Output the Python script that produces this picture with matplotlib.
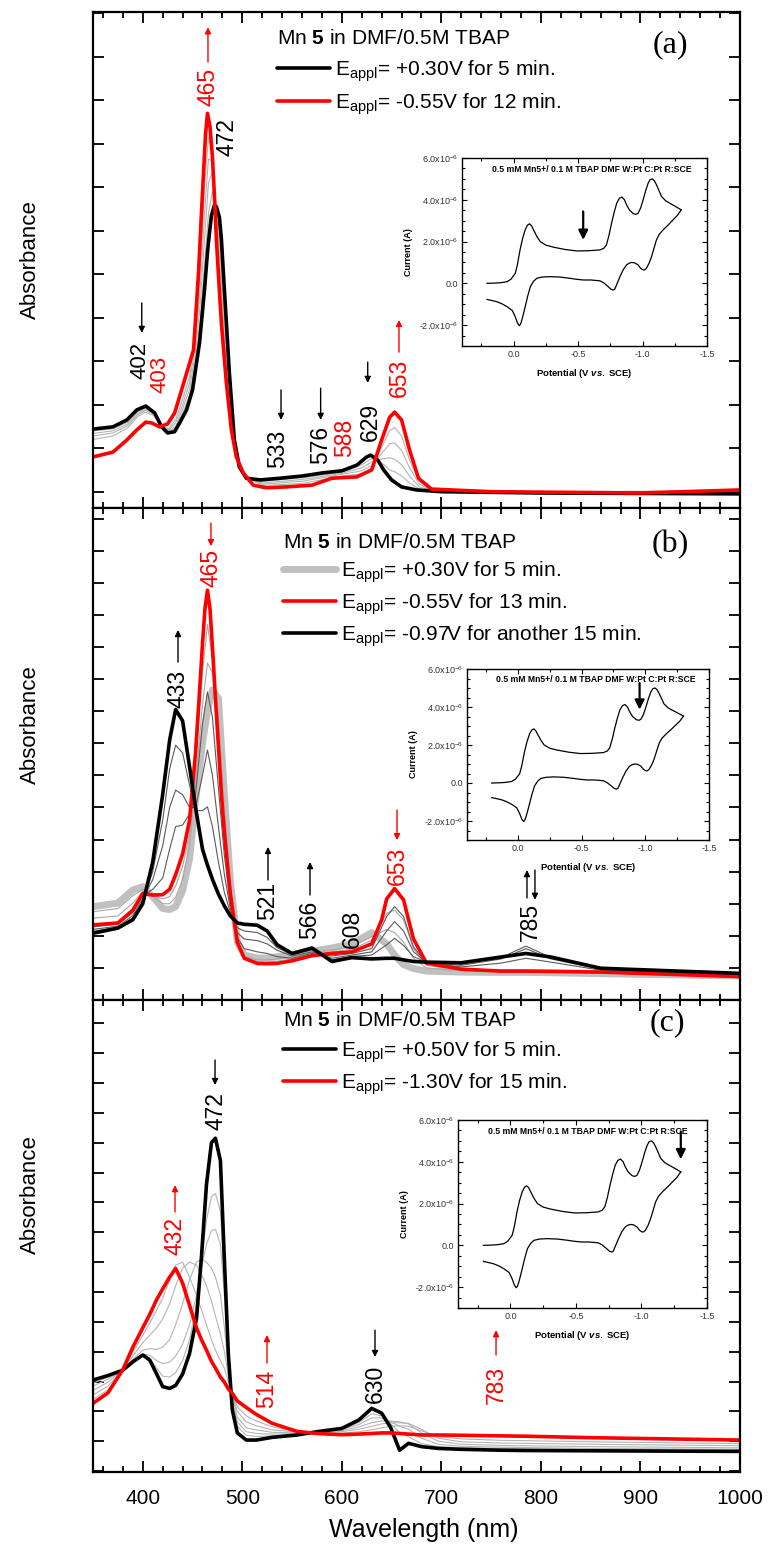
import matplotlib
matplotlib.use("Agg")
import matplotlib.pyplot as plt
from matplotlib.lines import Line2D
from matplotlib.ticker import MultipleLocator, AutoMinorLocator, FuncFormatter

plt.rcParams['font.family'] = ['Liberation Sans', 'DejaVu Sans']
plt.rcParams['mathtext.fontset'] = 'custom'
plt.rcParams['mathtext.rm'] = 'Liberation Sans'
plt.rcParams['mathtext.it'] = 'Liberation Sans:italic:bold'
plt.rcParams['mathtext.bf'] = 'Liberation Sans:bold'

# ---------------- panel (a) spectra ----------------
a_black_wl = [350, 370, 384, 394, 403, 412, 419, 425, 432, 437, 444, 450, 457, 462, 465, 467, 469, 472, 474, 477,
              479, 482, 484.5, 487, 492, 497, 504, 518, 538, 560, 580, 600, 615, 625, 629, 636, 642, 650, 660, 675,
              700, 800, 1000]
a_black = [0.144, 0.149, 0.165, 0.188, 0.197, 0.181, 0.149, 0.135, 0.138, 0.158, 0.188, 0.234, 0.342, 0.464, 0.550,
           0.595, 0.635, 0.659, 0.655, 0.631, 0.580, 0.464, 0.370, 0.273, 0.119, 0.057, 0.031, 0.027, 0.031, 0.036,
           0.043, 0.048, 0.061, 0.080, 0.084, 0.073, 0.050, 0.027, 0.011, 0.004, 0.0, -0.003, -0.005]

a_red_wl = [350, 370, 384, 394, 403, 409, 417, 425, 432, 439, 445, 451, 456, 458.5, 461, 463, 465, 467.5, 470, 472,
            474, 476.5, 479, 484, 489, 494, 501, 511, 524, 544, 570, 590, 615, 630, 640, 648, 653, 660, 668, 677,
            690, 750, 900, 1000]
a_red = [0.080, 0.091, 0.119, 0.142, 0.160, 0.158, 0.149, 0.156, 0.181, 0.234, 0.280, 0.326, 0.503, 0.620, 0.732,
         0.820, 0.870, 0.840, 0.769, 0.680, 0.578, 0.480, 0.387, 0.250, 0.142, 0.080, 0.043, 0.015, 0.009, 0.011,
         0.015, 0.031, 0.034, 0.050, 0.119, 0.171, 0.183, 0.165, 0.096, 0.031, 0.006, 0.0, -0.003, 0.004]

a_grid = [350, 370, 385, 395, 403, 411, 419, 426, 433, 440, 447, 453, 458, 462, 466, 470, 474, 478, 482, 487,
          492, 497, 504, 520, 560, 600, 620, 630, 640, 648, 653, 660, 668, 678, 690, 720, 800, 1000]
a_gray1 = [.140, .145, .160, .184, .193, .182, .150, .138, .145, .180, .220, .300, .400, .520, .640, .690, .660, .570,
           .420, .250, .118, .058, .032, .024, .032, .045, .062, .076, .066, .050, .046, .036, .020, .006, .002, 0,
           -.002, -.003]
a_gray2 = [.134, .140, .156, .180, .190, .180, .150, .140, .150, .190, .235, .320, .440, .580, .710, .735, .650, .540,
           .390, .235, .115, .058, .032, .020, .028, .042, .055, .068, .075, .078, .075, .062, .036, .011, .003, .001,
           -.001, -.002]
a_gray3 = [.128, .135, .152, .177, .187, .178, .150, .142, .158, .200, .250, .340, .480, .640, .765, .760, .640, .510,
           .365, .220, .112, .058, .033, .017, .024, .040, .048, .060, .088, .110, .112, .095, .055, .017, .004, .001,
           -.001, 0]
a_gray4 = [.120, .128, .147, .173, .183, .175, .150, .145, .165, .212, .265, .360, .520, .700, .815, .775, .620, .475,
           .340, .205, .108, .059, .034, .014, .019, .036, .041, .054, .102, .140, .148, .128, .073, .023, .005, .001,
           0, .002]

# ---------------- panel (b) spectra ----------------
b_grid = [350, 375, 390, 400, 410, 420, 427, 433, 440, 447, 453, 460, 465, 470, 476, 482, 488, 495, 502, 515,
          525, 535, 550, 570, 590, 610, 630, 645, 653, 662, 672, 685, 720, 760, 785, 810, 860, 1000]
b_black = [.208, .224, .250, .300, .430, .640, .810, .905, .870, .727, .600, .470, .420, .376, .330, .293, .262, .240,
           .236, .233, .215, .172, .145, .162, .120, .132, .128, .130, .130, .125, .120, .118, .116, .134, .145, .134,
           .099, .083]
b_red_wl = [350, 375, 390, 400, 410, 420, 427, 433, 440, 447, 453, 457, 460, 462.5, 465, 467.5, 470, 473, 476, 479,
            482, 488, 495, 502, 515, 525, 535, 550, 570, 590, 610, 630, 640, 645, 653, 662, 667, 672, 685, 720,
            760, 785, 810, 860, 1000]
b_red = [.234, .240, .280, .332, .327, .328, .345, .390, .455, .560, .770, .960, 1.110, 1.220, 1.277, 1.220, 1.100,
         .940, .790, .640, .520, .330, .180, .130, .114, .113, .114, .122, .138, .145, .150, .175, .250, .315, .347,
         .312, .250, .190, .115, .096, .090, .090, .089, .087, .073]
b_start = [.291, .302, .343, .353, .322, .285, .282, .291, .340, .440, .620, .800, .900, .966, .940, .640, .370, .180,
           .140, .131, .131, .135, .141, .152, .162, .175, .210, .175, .140, .110, .098, .090, .087, .086, .086, .085,
           .082, .075]
b_light1 = [.275, .285, .325, .345, .323, .300, .300, .320, .375, .480, .680, .920, 1.050, 1.020, .880, .600, .355,
            .180, .137, .125, .125, .128, .135, .147, .156, .166, .197, .220, .210, .180, .130, .100, .091, .088, .088,
            .087, .084, .075]
b_light2 = [.255, .262, .302, .338, .325, .315, .322, .355, .415, .520, .730, 1.020, 1.170, 1.060, .830, .560, .342,
            .180, .133, .119, .119, .121, .128, .142, .150, .158, .186, .270, .280, .250, .160, .108, .093, .089, .089,
            .088, .085, .074]
b_dark1 = [.228, .236, .272, .325, .345, .380, .470, .540, .545, .580, .640, .860, .960, .880, .660, .450, .305, .195,
           .160, .150, .145, .135, .130, .145, .137, .145, .160, .260, .291, .260, .165, .115, .103, .115, .130, .118,
           .093, .077]
b_dark2 = [.220, .230, .263, .316, .375, .480, .600, .654, .640, .600, .600, .700, .779, .700, .540, .390, .285, .210,
           .190, .185, .175, .155, .137, .150, .130, .140, .150, .215, .244, .215, .150, .117, .108, .128, .160, .128,
           .096, .080]
b_dark3 = [.214, .227, .256, .308, .400, .560, .720, .794, .770, .670, .590, .590, .602, .540, .430, .335, .272, .225,
           .215, .210, .195, .163, .141, .156, .125, .136, .140, .172, .192, .170, .135, .118, .112, .132, .168, .132,
           .098, .082]

# ---------------- panel (c) spectra ----------------
c_grid = [350, 365, 380, 390, 400, 407, 414, 420, 427, 433, 440, 447, 454, 459, 464, 469, 473, 478, 482, 486,
          490, 495, 504, 514, 530, 555, 575, 600, 617, 630, 640, 649, 658, 667, 680, 697, 720, 760, 783, 850, 1000]
c_black = [.305, .320, .338, .366, .389, .372, .325, .283, .277, .287, .325, .394, .512, .720, .960, 1.100, 1.115,
           1.040, .707, .390, .204, .128, .104, .104, .113, .121, .132, .143, .171, .210, .194, .146, .070, .093, .082,
           .076, .073, .070, .069, .068, .066]
c_red = [.227, .262, .340, .415, .480, .525, .575, .610, .650, .679, .630, .555, .480, .440, .405, .368, .345, .315,
         .298, .275, .260, .235, .213, .190, .160, .133, .126, .122, .124, .126, .128, .128, .126, .124, .121, .121,
         .120, .118, .117, .112, .104]
c_gray1 = [.295, .315, .338, .365, .388, .378, .345, .318, .315, .330, .370, .440, .560, .700, .840, .920, .930, .870,
           .640, .390, .225, .150, .120, .116, .118, .124, .132, .142, .163, .192, .185, .158, .130, .115, .092, .082,
           .078, .076, .075, .073, .070]
c_gray2 = [.285, .308, .338, .368, .392, .388, .370, .360, .365, .385, .425, .490, .590, .680, .760, .805, .810, .760,
           .590, .385, .240, .165, .132, .126, .124, .126, .132, .140, .156, .178, .178, .165, .150, .140, .110, .090,
           .083, .080, .079, .076, .073]
c_gray3 = [.270, .298, .338, .375, .405, .410, .408, .415, .440, .490, .560, .640, .700, .710, .700, .680, .650, .590,
           .480, .350, .250, .180, .145, .138, .130, .128, .130, .136, .148, .162, .168, .168, .165, .158, .128, .100,
           .090, .086, .085, .082, .078]
c_gray4 = [.255, .285, .338, .385, .430, .455, .480, .510, .560, .620, .680, .700, .690, .660, .620, .570, .520, .460,
           .400, .320, .255, .200, .165, .152, .138, .131, .130, .132, .140, .150, .158, .162, .162, .160, .140, .110,
           .098, .094, .093, .090, .085]
c_gray5 = [.240, .272, .338, .398, .455, .495, .540, .580, .640, .690, .700, .650, .590, .540, .490, .440, .405, .370,
           .345, .300, .260, .215, .185, .168, .148, .132, .128, .127, .132, .138, .145, .150, .152, .150, .135, .115,
           .108, .103, .102, .098, .092]

# ---------------- cyclic voltammogram (inset), current in 1e-6 A ----------------
cv_fwd_E = [0.206, 0.15, 0.10, 0.05, 0.02, -0.013, -0.03, -0.05, -0.07, -0.09, -0.107, -0.124, -0.14, -0.155, -0.18,
            -0.206, -0.25, -0.31, -0.40, -0.49, -0.58, -0.67, -0.70, -0.72, -0.74, -0.76, -0.78, -0.80, -0.82, -0.84,
            -0.86, -0.876, -0.90, -0.93, -0.95, -0.966, -0.985, -1.005, -1.025, -1.044, -1.06, -1.077, -1.093,
            -1.108, -1.127, -1.147, -1.18, -1.21, -1.25, -1.30]
cv_fwd_I = [0.0, 0.01, 0.03, 0.08, 0.2, 0.48, 0.9, 1.6, 2.15, 2.56, 2.78, 2.85, 2.75, 2.56, 2.25, 2.0, 1.83, 1.73,
            1.62, 1.55, 1.56, 1.6, 1.68, 1.84, 2.3, 2.88, 3.4, 3.84, 4.07, 4.13, 4.0, 3.76, 3.5, 3.33, 3.3, 3.36, 3.6,
            4.0, 4.45, 4.8, 4.97, 5.0, 4.9, 4.72, 4.45, 4.16, 3.95, 3.84, 3.7, 3.52]
cv_rev_E = [-1.30, -1.27, -1.237, -1.20, -1.16, -1.13, -1.108, -1.09, -1.07, -1.05, -1.03, -1.015, -1.005, -0.985,
            -0.966, -0.94, -0.915, -0.895, -0.876, -0.85, -0.825, -0.80, -0.785, -0.773, -0.755, -0.734, -0.70,
            -0.67, -0.60, -0.54, -0.48, -0.438, -0.36, -0.28, -0.22, -0.18, -0.155, -0.13, -0.11, -0.09, -0.075,
            -0.064, -0.054, -0.044, -0.03, -0.013, 0.01, 0.05, 0.09, 0.13, 0.17, 0.206]
cv_rev_I = [3.52, 3.25, 3.04, 2.8, 2.56, 2.35, 2.08, 1.7, 1.28, 0.95, 0.72, 0.64, 0.64, 0.72, 0.88, 0.98, 1.0, 0.96,
            0.88, 0.65, 0.32, -0.05, -0.28, -0.32, -0.28, -0.16, 0.02, 0.12, 0.16, 0.16, 0.2, 0.24, 0.3, 0.32, 0.3,
            0.24, 0.1, -0.16, -0.6, -1.12, -1.5, -1.76, -1.95, -2.03, -1.9, -1.6, -1.3, -1.12, -0.98, -0.88, -0.82,
            -0.77]

W, H = 769, 1548
fig = plt.figure(figsize=(W / 100, H / 100), dpi=100)


def px_axes(l, t, r, b):
    return fig.add_axes([l / W, 1 - b / H, (r - l) / W, (b - t) / H])


def fig_xy(x, y):
    return x / W, 1 - y / H


def style_spec(ax, ylim, labels=False):
    ax.set_xlim(350, 1000)
    ax.set_ylim(*ylim)
    ax.xaxis.set_major_locator(MultipleLocator(100))
    ax.xaxis.set_minor_locator(MultipleLocator(20))
    ax.yaxis.set_major_locator(MultipleLocator(0.1))
    ax.tick_params(which='both', direction='in', top=True, right=True, width=1.3)
    ax.tick_params(which='major', length=8)
    ax.tick_params(which='minor', length=4)
    ax.tick_params(axis='y', labelleft=False)
    ax.tick_params(axis='x', labelbottom=labels, labelsize=15, pad=12)
    for s in ax.spines.values():
        s.set_linewidth(1.6)


def arrow(ax, x, y0, y1, color='black'):
    ax.annotate('', xy=(x, y1), xytext=(x, y0),
                arrowprops=dict(arrowstyle='-|>', color=color, lw=1.0, mutation_scale=9,
                                shrinkA=0, shrinkB=0))


def peak_label(ax, x, y, s, color='black', size=16.5):
    ax.text(x, y, s, rotation=90, ha='center', va='center', fontsize=size, color=color)


def legend_block(x0, y_title, rows):
    fig.text(*fig_xy(x0, y_title), r'Mn $\mathbf{5}$ in DMF/0.5M TBAP', fontsize=15, va='center')
    for yy, color, lw, txt in rows:
        fig.add_artist(Line2D([x0 / W, (x0 + 53) / W], [1 - yy / H, 1 - yy / H], color=color, lw=lw,
                              solid_capstyle='round'))
        fig.text(*fig_xy(x0 + 58, yy + 7.5), r'E$_{\mathrm{appl}}$' + txt, fontsize=15, va='baseline')


def cv_inset(l, t, r, b, arr_E, arr_top, arr_tip):
    ia = px_axes(l, t, r, b)
    ia.plot(cv_fwd_E, cv_fwd_I, color='black', lw=0.9)
    ia.plot(cv_rev_E, cv_rev_I, color='black', lw=0.9)
    ia.set_xlim(0.4, -1.5)
    ia.set_ylim(-3.0, 6.0)
    ia.xaxis.set_major_locator(MultipleLocator(0.5))
    ia.xaxis.set_minor_locator(AutoMinorLocator(2))
    ia.yaxis.set_major_locator(MultipleLocator(2.0))
    ia.yaxis.set_minor_locator(AutoMinorLocator(4))
    ia.xaxis.set_major_formatter(FuncFormatter(lambda v, p: '%.1f' % v if abs(v) > 1e-9 else '0.0'))
    ia.yaxis.set_major_formatter(FuncFormatter(
        lambda v, p: '0.0' if abs(v) < 1e-9 else '%.1fx10$^{\\mathrm{-6}}$' % v))
    ia.tick_params(which='both', direction='in', top=True, right=True, width=0.8, labelsize=6.5,
                   labelcolor='#333333', pad=3)
    ia.tick_params(which='major', length=3.5)
    ia.tick_params(which='minor', length=2)
    for s in ia.spines.values():
        s.set_linewidth(1.0)
    ia.set_xlabel(r'Potential (V $\mathit{vs.}$ SCE)', fontsize=6.8, fontweight='bold', labelpad=6)
    ia.set_ylabel('Current (A)', fontsize=6.5, fontweight='bold', labelpad=4)
    ia.text(0.17, 5.45, '0.5 mM Mn5+/ 0.1 M TBAP DMF W:Pt C:Pt R:SCE', fontsize=6.2, fontweight='bold',
            va='center')
    ia.annotate('', xy=(arr_E, arr_tip), xytext=(arr_E, arr_top),
                arrowprops=dict(arrowstyle='-|>', color='black', lw=1.6, mutation_scale=14,
                                shrinkA=0, shrinkB=0))
    return ia


# ---------------- panel (a) ----------------
ax_a = px_axes(93, 12, 740, 508)
for g in (a_gray1, a_gray2, a_gray3, a_gray4):
    ax_a.plot(a_grid, g, color='#b4b4b4', lw=0.8)
ax_a.plot(a_black_wl, a_black, color='black', lw=2.6)
ax_a.plot(a_red_wl, a_red, color='#ff0000', lw=2.6)
style_spec(ax_a, (-0.0375, 1.103))

peak_label(ax_a, 465.5, 0.930, '465', '#ff0000')
arrow(ax_a, 465.5, 0.988, 1.068, '#ff0000')
peak_label(ax_a, 484.3, 0.815, '472')
peak_label(ax_a, 397.0, 0.302, '402', size=16)
arrow(ax_a, 399.0, 0.434, 0.365)
peak_label(ax_a, 417.5, 0.270, '403', '#ff0000', size=16)
peak_label(ax_a, 535.9, 0.098, '533')
arrow(ax_a, 538.9, 0.234, 0.165)
peak_label(ax_a, 578.7, 0.107, '576')
arrow(ax_a, 578.7, 0.238, 0.165)
peak_label(ax_a, 602.7, 0.123, '588', '#ff0000')
peak_label(ax_a, 628.3, 0.160, '629')
arrow(ax_a, 626.0, 0.298, 0.250)
peak_label(ax_a, 657.4, 0.261, '653', '#ff0000')
arrow(ax_a, 657.4, 0.321, 0.395, '#ff0000')

legend_block(277, 38, [(68, 'black', 2.6, '= +0.30V for 5 min.'),
                       (101, '#ff0000', 2.6, '= -0.55V for 12 min.')])
fig.text(*fig_xy(670, 45), '(a)', fontsize=23, family='Liberation Serif', ha='center', va='center')
cv_inset(462, 158, 707, 346, -0.54, 3.44, 2.08)

# ---------------- panel (b) ----------------
ax_b = px_axes(93, 508, 740, 1000)
ax_b.plot(b_grid, b_start, color='#c0c0c0', lw=5.0)
for g in (b_light1, b_light2):
    ax_b.plot(b_grid, g, color='#a8a8a8', lw=0.8)
for g in (b_dark1, b_dark2, b_dark3):
    ax_b.plot(b_grid, g, color='#5a5a5a', lw=0.8)
ax_b.plot(b_red_wl, b_red, color='#ff0000', lw=2.6)
ax_b.plot(b_grid, b_black, color='black', lw=2.6)
style_spec(ax_b, (0.0, 1.533))

peak_label(ax_b, 468.5, 1.346, '465', '#ff0000')
arrow(ax_b, 468.5, 1.486, 1.414, '#ff0000')
peak_label(ax_b, 435.4, 0.969, '433')
arrow(ax_b, 435.4, 1.053, 1.153)
peak_label(ax_b, 525.8, 0.308, '521')
arrow(ax_b, 525.8, 0.374, 0.477)
peak_label(ax_b, 568.0, 0.249, '566')
arrow(ax_b, 568.0, 0.327, 0.430)
peak_label(ax_b, 610.2, 0.221, '608')
peak_label(ax_b, 655.4, 0.417, '653', '#ff0000')
arrow(ax_b, 655.4, 0.592, 0.498, '#ff0000')
peak_label(ax_b, 789.0, 0.243, '785')
arrow(ax_b, 786.0, 0.318, 0.405)
arrow(ax_b, 794.0, 0.405, 0.312)

legend_block(283, 543, [(569, '#c0c0c0', 5.0, '= +0.30V for 5 min.'),
                        (601, '#ff0000', 2.6, '= -0.55V for 13 min.'),
                        (633, 'black', 2.6, '= -0.97V for another 15 min.')])
fig.text(*fig_xy(670, 545), '(b)', fontsize=23, family='Liberation Serif', ha='center', va='center')
cv_inset(467, 669, 709, 840, -0.955, 5.26, 3.86)

# ---------------- panel (c) ----------------
ax_c = px_axes(93, 1000, 740, 1472)
for g in (c_gray1, c_gray2, c_gray3, c_gray4, c_gray5):
    ax_c.plot(c_grid, g, color='#b4b4b4', lw=0.8)
ax_c.plot(c_grid, c_black, color='black', lw=2.6)
ax_c.plot(c_grid, c_red, color='#ff0000', lw=2.6)
style_spec(ax_c, (-0.003, 1.578), labels=True)

peak_label(ax_c, 473.6, 1.206, '472')
arrow(ax_c, 472.6, 1.377, 1.293)
peak_label(ax_c, 432.4, 0.787, '432', '#ff0000')
arrow(ax_c, 432.4, 0.868, 0.958, '#ff0000')
peak_label(ax_c, 524.8, 0.275, '514', '#ff0000')
arrow(ax_c, 524.8, 0.362, 0.456, '#ff0000')
peak_label(ax_c, 633.3, 0.291, '630')
arrow(ax_c, 633.3, 0.472, 0.382)
peak_label(ax_c, 754.9, 0.288, '783', '#ff0000')
arrow(ax_c, 754.9, 0.389, 0.472, '#ff0000')

legend_block(283, 1020, [(1049, 'black', 2.6, '= +0.50V for 5 min.'),
                         (1081, '#ff0000', 2.6, '= -1.30V for 15 min.')])
fig.text(*fig_xy(667, 1023), '(c)', fontsize=23, family='Liberation Serif', ha='center', va='center')
cv_inset(458, 1120, 707, 1308, -1.30, 5.45, 4.12)

# ---------------- axis titles ----------------
for yy in (260, 725, 1195):
    fig.text(*fig_xy(30, yy), 'Absorbance', rotation=90, fontsize=16, ha='center', va='center')
fig.text(*fig_xy(424, 1530), 'Wavelength (nm)', fontsize=18, ha='center', va='center')

fig.savefig('out.png', dpi=100)
